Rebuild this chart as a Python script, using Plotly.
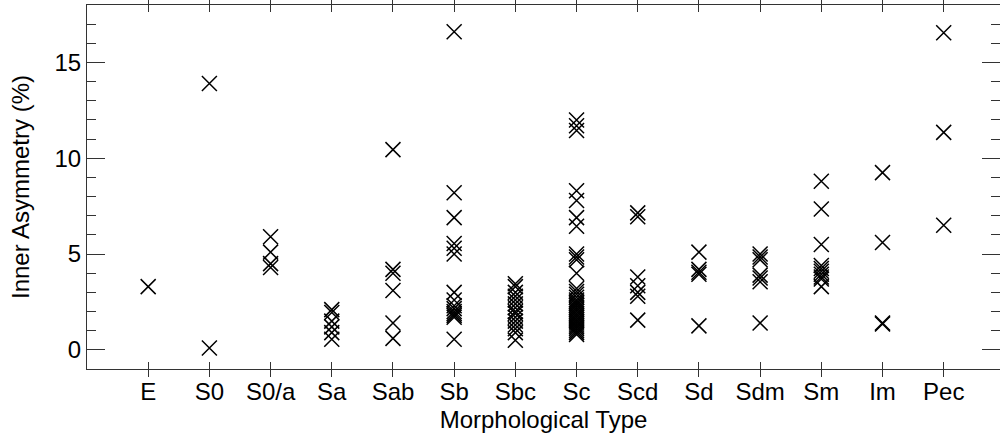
import plotly.graph_objects as go

categories = ["E", "S0", "S0/a", "Sa", "Sab", "Sb", "Sbc", "Sc", "Scd", "Sd", "Sdm", "Sm", "Im", "Pec"]

asym_E = [3.3]
asym_S0 = [13.9, 0.1]
asym_S0a = [5.9, 5.1, 4.5, 4.3]
asym_Sa = [2.1, 1.95, 1.5, 1.2, 0.9, 0.55]
asym_Sab = [10.45, 4.2, 4.0, 3.1, 1.4, 0.6]
asym_Sb = [16.6, 8.2, 6.9, 5.55, 5.3, 5.0, 3.0, 2.6, 2.3, 2.15, 2.0, 1.9, 1.8, 1.7, 0.55]
asym_Sbc = [3.45, 3.3, 3.0, 2.8, 2.6, 2.4, 2.2, 2.0, 1.9, 1.7, 1.5, 1.3, 1.1, 0.9, 0.5]
asym_Sc = [12.0, 11.7, 11.45, 8.3, 7.8, 6.9, 6.45, 5.0, 4.85, 4.7, 4.0,
           3.2, 3.05, 2.9, 2.75, 2.6, 2.5, 2.4, 2.3, 2.2, 2.1, 2.0, 1.9, 1.8,
           1.7, 1.6, 1.5, 1.4, 1.3, 1.2, 1.1, 1.0, 0.9, 0.8]
asym_Scd = [7.15, 6.95, 3.8, 3.35, 3.0, 2.8, 1.55]
asym_Sd = [5.1, 4.2, 4.05, 3.95, 1.25]
asym_Sdm = [5.0, 4.85, 4.7, 3.9, 3.75, 3.55, 1.4]
asym_Sm = [8.8, 7.35, 5.5, 4.4, 4.25, 4.1, 3.95, 3.8, 3.7, 3.3]
asym_Im = [9.25, 5.6, 1.4, 1.35]
asym_Pec = [16.55, 11.35, 6.5]

groups = [asym_E, asym_S0, asym_S0a, asym_Sa, asym_Sab, asym_Sb, asym_Sbc,
          asym_Sc, asym_Scd, asym_Sd, asym_Sdm, asym_Sm, asym_Im, asym_Pec]

xs, ys = [], []
for i, vals in enumerate(groups):
    for v in vals:
        xs.append(i + 1)
        ys.append(v)

fig = go.Figure()
fig.add_trace(go.Scatter(
    x=xs, y=ys, mode="markers",
    marker=dict(symbol="x-thin", size=15, color="black",
                line=dict(color="black", width=1.5)),
    showlegend=False,
))
# empty trace to activate the right-hand tick axis
fig.add_trace(go.Scatter(x=[], y=[], yaxis="y2", showlegend=False, hoverinfo="skip"))

font = dict(family="Liberation Sans, Arial, sans-serif", size=24, color="black")
axcol = "#333"

fig.update_layout(
    width=1000, height=441,
    margin=dict(l=87, r=0, t=5, b=72),
    paper_bgcolor="white", plot_bgcolor="white",
    font=font,
    xaxis=dict(
        range=[0, 14.92],
        tickmode="array",
        tickvals=list(range(1, len(categories) + 1)),
        ticktext=categories,
        ticks="inside", ticklen=7, tickwidth=1, tickcolor=axcol,
        showline=True, linecolor=axcol, linewidth=1, mirror="allticks",
        showgrid=False, zeroline=False, automargin=False,
        ticklabelstandoff=1,
        title=dict(text="Morphological Type", standoff=7, font=font),
    ),
    yaxis=dict(
        range=[-1, 18],
        tickmode="array",
        tickvals=[0, 5, 10, 15],
        ticks="inside", ticklen=18, tickwidth=1, tickcolor=axcol,
        minor=dict(dtick=1, ticks="inside", ticklen=9, tickwidth=1,
                   tickcolor=axcol, showgrid=False),
        showline=True, linecolor=axcol, linewidth=1, mirror=True,
        showgrid=False, zeroline=False, automargin=False,
        ticklabelstandoff=0,
        title=dict(text="Inner Asymmetry (%)", standoff=18, font=font),
    ),
    yaxis2=dict(
        overlaying="y", side="right",
        range=[-1, 18],
        tickmode="array",
        tickvals=[0, 5, 10, 15],
        ticks="inside", ticklen=18, tickwidth=1, tickcolor=axcol,
        minor=dict(dtick=1, ticks="inside", ticklen=9, tickwidth=1,
                   tickcolor=axcol, showgrid=False),
        showticklabels=False, showline=False,
        showgrid=False, zeroline=False, automargin=False,
    ),
)

fig.write_html(
    "out.html",
    config={"displayModeBar": False},
    post_script="document.body.style.margin='0';document.body.style.overflow='hidden';",
)
